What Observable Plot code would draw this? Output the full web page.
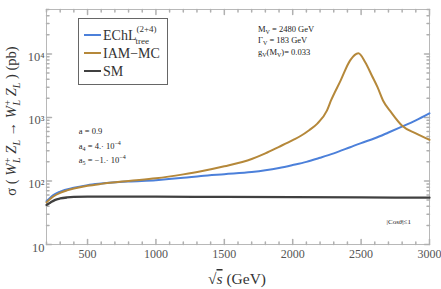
<!DOCTYPE html>
<html><head><meta charset="utf-8">
<script src="https://cdn.jsdelivr.net/npm/d3@7"></script>
<script src="https://cdn.jsdelivr.net/npm/@observablehq/plot@0.6"></script>
<style>
body{margin:0;background:#fff}
#wrap{position:relative;width:441px;height:289px}
</style></head><body><div id="wrap"></div>
<script>
// ---- data ----
const seriesNames = ["EChL", "IAM-MC", "SM"];
const seriesColors = ["#4c80da", "#b5883a", "#404040"];

const xEChL = [200, 250, 300, 400, 500, 600, 800, 1000, 1200, 1330, 1500, 1700, 1800, 1900, 2000, 2100, 2200, 2300, 2420, 2500, 2600, 2700, 2790, 2900, 3000];
const yEChL = [48, 60, 68, 78, 86, 91, 98, 103, 112, 120, 128, 138, 147, 160, 178, 200, 232, 272, 340, 395, 470, 580, 705, 900, 1160];

const xIAM = [200, 250, 300, 350, 400, 500, 600, 800, 1000, 1200, 1330, 1500, 1700, 1800, 1900, 2000, 2060, 2120, 2180, 2250, 2280, 2350, 2420, 2480, 2530, 2580, 2620, 2660, 2720, 2800, 2900, 3000];
const yIAM = [46, 57, 65, 71, 76, 84, 90, 100, 110, 127, 142, 170, 222, 272, 345, 440, 515, 630, 800, 1280, 1850, 3800, 7900, 10200, 7400, 4500, 3000, 1850, 1200, 740, 560, 445];

const xSM = [200, 230, 260, 300, 350, 400, 500, 700, 1000, 1500, 2000, 2500, 3000];
const ySM = [42, 46, 50, 53, 55, 56, 56.5, 56.5, 56.5, 56, 55.5, 55, 54.5];

const xMajorTicks = [500, 1000, 1500, 2000, 2500, 3000];
const xTickLabels = ["500", "1000", "1500", "2000", "2500", "3000"];
const yMajorTicks = [10, 100, 1000, 10000];
const yTickLabels = ["10", "10²", "10³", "10⁴"];
const xMinorTicks = d3.range(200, 3001, 100).filter(v => !xMajorTicks.includes(v));
const yMinorTicks = [1, 10, 100, 1000].flatMap(d => [2,3,4,5,6,7,8,9].map(m => m * d * 10)).filter(v => v <= 50000);

const series = [
  {name: seriesNames[0], xs: xEChL, ys: yEChL, color: seriesColors[0]},
  {name: seriesNames[1], xs: xIAM, ys: yIAM, color: seriesColors[1]},
  {name: seriesNames[2], xs: xSM, ys: ySM, color: seriesColors[2]}
];
const rows = series.flatMap(s => s.xs.map((x, i) => ({series: s.name, x, y: s.ys[i]})));

// ---- chart ----
const tickShape = {draw(ctx, l) { ctx.moveTo(0, 0); ctx.lineTo(0, -l); }};
const tickStroke = "#b0b0b0";
function edgeTicks(values, len) {
  return [
    Plot.vectorX(values.x, {frameAnchor: "bottom", length: len, rotate: 0, anchor: "start", shape: tickShape, stroke: tickStroke}),
    Plot.vectorX(values.x, {frameAnchor: "top", length: len, rotate: 180, anchor: "start", shape: tickShape, stroke: tickStroke}),
    Plot.vectorY(values.y, {frameAnchor: "left", length: len, rotate: 90, anchor: "start", shape: tickShape, stroke: tickStroke}),
    Plot.vectorY(values.y, {frameAnchor: "right", length: len, rotate: -90, anchor: "start", shape: tickShape, stroke: tickStroke})
  ];
}

const plot = Plot.plot({
  width: 441, height: 289,
  marginLeft: 46, marginRight: 12, marginTop: 9, marginBottom: 45,
  style: {fontFamily: "'Liberation Serif', serif", fontSize: "12px", color: "#555", background: "white", overflow: "visible"},
  x: {domain: [200, 3000]},
  y: {type: "log", domain: [10, 50000]},
  color: {domain: seriesNames, range: seriesColors},
  marks: [
    Plot.frame({stroke: "#b8b8b8"}),
    ...edgeTicks({x: xMinorTicks, y: yMinorTicks}, 2.5),
    ...edgeTicks({x: xMajorTicks, y: yMajorTicks}, 5),
    Plot.axisX(xMajorTicks, {tickSize: 0, tickPadding: 5, tickFormat: d => xTickLabels[xMajorTicks.indexOf(d)], label: null, fill: "#555", fontSize: 12}),
    Plot.axisY(yMajorTicks, {tickSize: 0, tickPadding: 2, dy: 3, tickFormat: d => yTickLabels[yMajorTicks.indexOf(d)], label: null, fill: "#555", fontSize: 12.5}),
    Plot.line(rows, {x: "x", y: "y", z: "series", stroke: "series", strokeWidth: d => d.series === "SM" ? 2.3 : 2, curve: "monotone-x"})
  ]
});
document.getElementById("wrap").appendChild(plot);

// ---- text annotations (positioned with the plot's scales) ----
const svg = d3.select(plot);
const sx = plot.scale("x"), sy = plot.scale("y");
const font = "'Liberation Serif', serif";

function rich(parent, x, y, size, segs, opts = {}) {
  const t = parent.append("text").attr("x", x).attr("y", y)
    .attr("font-family", font).attr("font-size", size).attr("fill", opts.fill || "#222")
    .attr("text-anchor", opts.anchor || "start");
  if (opts.transform) t.attr("transform", opts.transform);
  for (const s of segs) {
    const ts = t.append("tspan").text(s.t);
    if (s.dx) ts.attr("dx", s.dx);
    if (s.dy) ts.attr("dy", s.dy);
    if (s.size) ts.attr("font-size", s.size);
    if (s.it) ts.attr("font-style", "italic");
    if (s.over) ts.attr("text-decoration", "overline");
  }
  return t;
}
const g = svg.append("g");

// parameters top right
const f1 = 8.5;
rich(g, sx.apply(1750), sy.apply(21900), f1, [{t: "M"}, {t: "V", size: 6, dy: 2}, {t: " = 2480 GeV", dy: -2}]);
rich(g, sx.apply(1750), sy.apply(14500), f1, [{t: "Γ"}, {t: "V", size: 6, dy: 2}, {t: " = 183 GeV", dy: -2}]);
rich(g, sx.apply(1750), sy.apply(9400), f1, [{t: "g"}, {t: "V", size: 6, dy: 2}, {t: "(M", dy: -2}, {t: "V", size: 6, dy: 2}, {t: ")= 0.033", dy: -2}]);

// parameters left
rich(g, sx.apply(440), sy.apply(540), f1, [{t: "a = 0.9"}]);
rich(g, sx.apply(440), sy.apply(313), f1, [{t: "a"}, {t: "4", size: 6, dy: 2}, {t: " = 4.· 10", dy: -2}, {t: "−4", size: 6, dy: -4}]);
rich(g, sx.apply(440), sy.apply(189), f1, [{t: "a"}, {t: "5", size: 6, dy: 2}, {t: " = −1.· 10", dy: -2}, {t: "−4", size: 6, dy: -4}]);

// cos theta
rich(g, sx.apply(2690), sy.apply(21), 7, [{t: "|Cos"}, {t: "θ", it: true}, {t: "|≤1"}]);

// x label
rich(g, 237, 284, 15.5, [{t: "√"}, {t: "s", it: true, over: true}, {t: " (GeV)"}], {anchor: "middle", fill: "#333"});

// y label (rotated)
const ysz = 14.5, ss = 10;
rich(g, 0, 0, ysz, [
  {t: "σ ( "}, {t: "W", it: true}, {t: "+", size: ss, it: true, dy: -5}, {t: "L", size: ss, it: true, dx: -6, dy: 9}, {t: " Z", it: true, dy: -4},
  {t: "L", size: ss, it: true, dy: 4}, {t: " → ", dy: -4}, {t: "W", it: true}, {t: "+", size: ss, it: true, dy: -5}, {t: "L", size: ss, it: true, dx: -6, dy: 9},
  {t: " Z", it: true, dy: -4}, {t: "L", size: ss, it: true, dy: 4}, {t: " ) (pb)", dy: -4}
], {anchor: "middle", transform: "translate(16,121) rotate(-90)", fill: "#333"});

// ---- legend ----
const lg = svg.append("g");
lg.append("rect").attr("x", 78.5).attr("y", 18.5).attr("width", 89).attr("height", 66)
  .attr("fill", "white").attr("stroke", "#666").attr("stroke-width", 1);
const legendRows = [35, 53, 71];
series.forEach((s, i) => {
  lg.append("line").attr("x1", 84).attr("x2", 101).attr("y1", legendRows[i]).attr("y2", legendRows[i])
    .attr("stroke", s.color).attr("stroke-width", 2);
});
rich(lg, 103, legendRows[0] + 5, 14, [{t: "EChL"}, {t: "(2+4)", size: 9, dy: -8}, {t: "tree", size: 9, dx: -21, dy: 12}], {fill: "#333"});
rich(lg, 103, legendRows[1] + 5, 14, [{t: "IAM−MC"}], {fill: "#333"});
rich(lg, 103, legendRows[2] + 5, 14, [{t: "SM"}], {fill: "#333"});
</script>
</body></html>
